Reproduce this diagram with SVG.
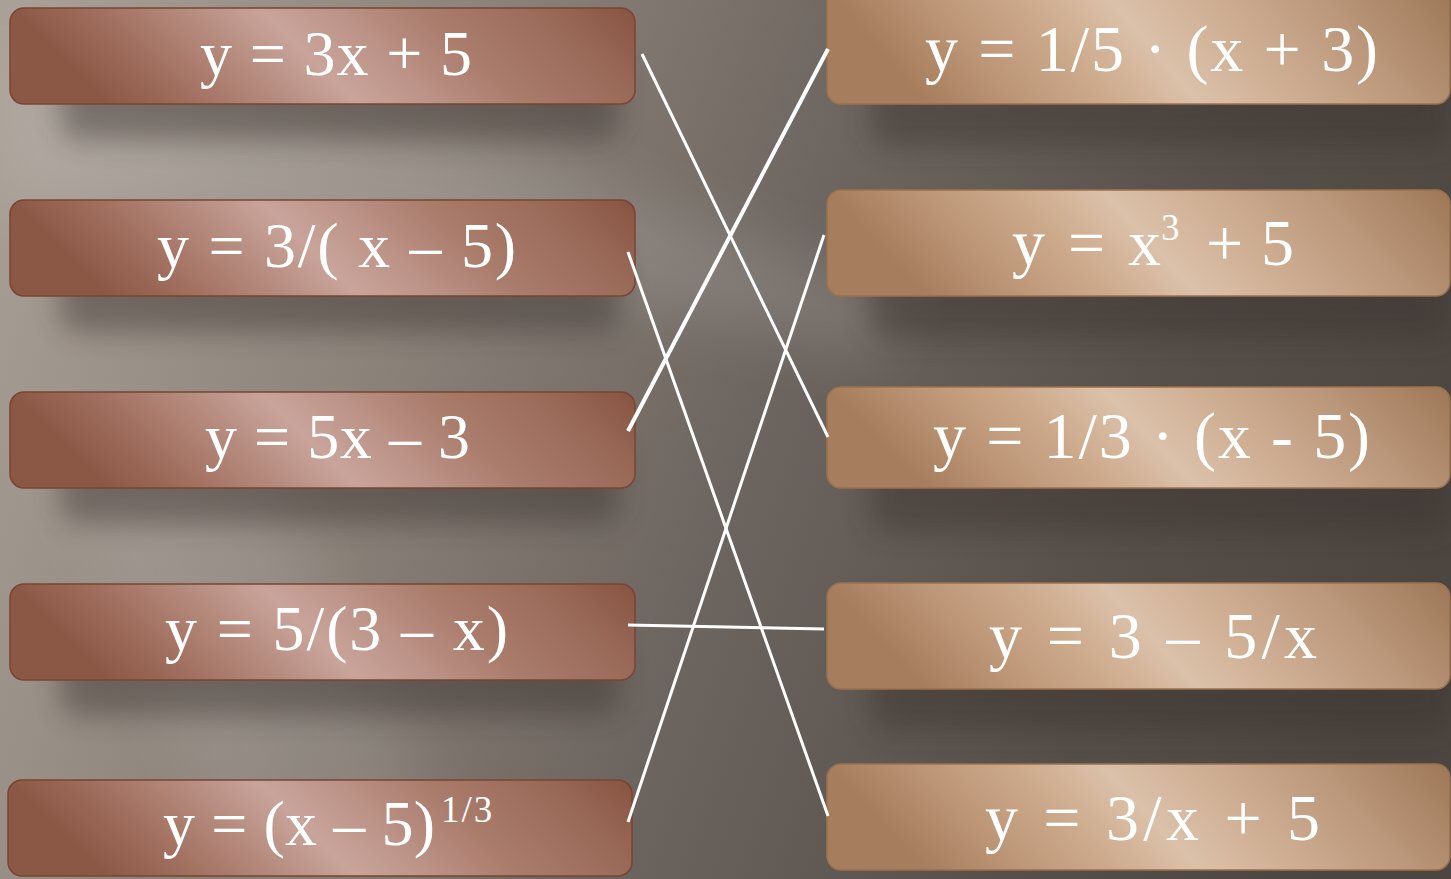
<svg xmlns="http://www.w3.org/2000/svg" width="1451" height="879" viewBox="0 0 1451 879">
  <defs>
    <linearGradient id="bg" x1="0" y1="0" x2="1451" y2="500" gradientUnits="userSpaceOnUse">
      <stop offset="0" stop-color="#aaa198"/>
      <stop offset="0.3" stop-color="#8c837b"/>
      <stop offset="0.55" stop-color="#6d655f"/>
      <stop offset="0.8" stop-color="#574f4a"/>
      <stop offset="1" stop-color="#4c4540"/>
    </linearGradient>
    <linearGradient id="gL" x1="0" y1="0" x2="1" y2="0" gradientTransform="skewX(9)">
      <stop offset="0" stop-color="#8c5846"/>
      <stop offset="0.14" stop-color="#a27060"/>
      <stop offset="0.28" stop-color="#b68c7f"/>
      <stop offset="0.4" stop-color="#c9a49b"/>
      <stop offset="0.52" stop-color="#bc9387"/>
      <stop offset="0.66" stop-color="#aa7c6c"/>
      <stop offset="0.85" stop-color="#9a6a59"/>
      <stop offset="1" stop-color="#885341"/>
    </linearGradient>
    <linearGradient id="gR" x1="0" y1="0" x2="1" y2="0" gradientTransform="skewX(9)">
      <stop offset="0" stop-color="#a67e5d"/>
      <stop offset="0.14" stop-color="#bb9475"/>
      <stop offset="0.3" stop-color="#cdaa8c"/>
      <stop offset="0.44" stop-color="#dbc1aa"/>
      <stop offset="0.58" stop-color="#d0b095"/>
      <stop offset="0.78" stop-color="#bb977b"/>
      <stop offset="1" stop-color="#9d7756"/>
    </linearGradient>
    <filter id="sh" x="-10%" y="-50%" width="120%" height="200%">
      <feGaussianBlur stdDeviation="14"/>
    </filter>
    <filter id="soft" x="-20%" y="-50%" width="140%" height="200%">
      <feGaussianBlur stdDeviation="30"/>
    </filter>
    <style>
      .bl { fill: url(#gL); stroke: #7a4433; stroke-width: 1.5; }
      .br { fill: url(#gR); stroke: #9a724f; stroke-width: 1.5; }
      .shd { fill: #3a322d; opacity: 0.45; filter: url(#sh); }
      .t { fill: #ffffff; font-family: "Liberation Serif", "DejaVu Serif", serif; font-size: 64px; }
      .tr { font-size: 66px; }
      .sup { font-size: 37px; }
      .cn line { stroke: #ffffff; stroke-width: 3; stroke-linecap: butt; }
    </style>
  </defs>

  <!-- background -->
  <rect x="0" y="0" width="1451" height="879" fill="url(#bg)"/>
  <polygon points="0,60 500,150 900,290 880,360 450,260 0,200" fill="#ffffff" opacity="0.12" filter="url(#soft)"/>
  <polygon points="60,480 260,470 480,879 240,879" fill="#ffffff" opacity="0.08" filter="url(#soft)"/>

  <!-- shadows -->
  <g id="shadows">
    <rect class="shd" x="60" y="50" width="560" height="90" rx="20"/>
    <rect class="shd" x="60" y="242" width="560" height="90" rx="20"/>
    <rect class="shd" x="60" y="434" width="560" height="90" rx="20"/>
    <rect class="shd" x="60" y="626" width="560" height="90" rx="20"/>
    <rect class="shd" x="870" y="46" width="580" height="100" rx="20"/>
    <rect class="shd" x="870" y="238" width="580" height="100" rx="20"/>
    <rect class="shd" x="870" y="432" width="580" height="100" rx="20"/>
    <rect class="shd" x="870" y="630" width="580" height="100" rx="20"/>
  </g>

  <!-- left nodes -->
  <g id="L1">
    <rect class="bl" x="10" y="8" width="625" height="96" rx="14"/>
    <text class="t" x="200" y="75" textLength="272" lengthAdjust="spacing">y = 3x + 5</text>
  </g>
  <g id="L2">
    <rect class="bl" x="10" y="200" width="625" height="96" rx="14"/>
    <text class="t" x="157" y="267" textLength="359" lengthAdjust="spacing">y = 3/( x – 5)</text>
  </g>
  <g id="L3">
    <rect class="bl" x="10" y="392" width="625" height="96" rx="14"/>
    <text class="t" x="205" y="458" textLength="265" lengthAdjust="spacing">y = 5x – 3</text>
  </g>
  <g id="L4">
    <rect class="bl" x="10" y="584" width="625" height="96" rx="14"/>
    <text class="t" x="165" y="650" textLength="343" lengthAdjust="spacing">y = 5/(3 – x)</text>
  </g>
  <g id="L5">
    <rect class="bl" x="8" y="780" width="624" height="96" rx="14"/>
    <text class="t" x="163" y="845" textLength="272" lengthAdjust="spacing">y = (x – 5)</text>
    <text class="t sup" x="441" y="822" letter-spacing="2">1/3</text>
  </g>

  <!-- right nodes -->
  <g id="R1">
    <rect class="br" x="827" y="-12" width="623" height="116" rx="14"/>
    <text class="t tr" x="925" y="71" textLength="453" lengthAdjust="spacing">y = 1/5 · (x + 3)</text>
  </g>
  <g id="R2">
    <rect class="br" x="827" y="190" width="623" height="106" rx="14"/>
    <text class="t tr" x="1012" y="265" textLength="149" lengthAdjust="spacing">y = x</text>
    <text class="t sup" x="1161" y="240">3</text>
    <text class="t tr" x="1206" y="265" textLength="88" lengthAdjust="spacing">+ 5</text>
  </g>
  <g id="R3">
    <rect class="br" x="827" y="387" width="623" height="101" rx="14"/>
    <text class="t tr" x="933" y="458" textLength="437" lengthAdjust="spacing">y = 1/3 · (x - 5)</text>
  </g>
  <g id="R4">
    <rect class="br" x="827" y="583" width="623" height="106" rx="14"/>
    <text class="t tr" x="989" y="658" textLength="328" lengthAdjust="spacing">y = 3 – 5/x</text>
  </g>
  <g id="R5">
    <rect class="br" x="827" y="764" width="623" height="106" rx="14"/>
    <text class="t tr" x="985" y="840" textLength="335" lengthAdjust="spacing">y = 3/x + 5</text>
  </g>

  <!-- connectors -->
  <g id="connectors" class="cn">
    <line x1="642" y1="54" x2="828" y2="437"/>
    <line x1="628" y1="252" x2="828" y2="816"/>
    <line x1="628" y1="431" x2="828" y2="49" style="stroke-width:4"/>
    <line x1="628" y1="625" x2="824" y2="629"/>
    <line x1="628" y1="822" x2="824" y2="235"/>
  </g>
</svg>
